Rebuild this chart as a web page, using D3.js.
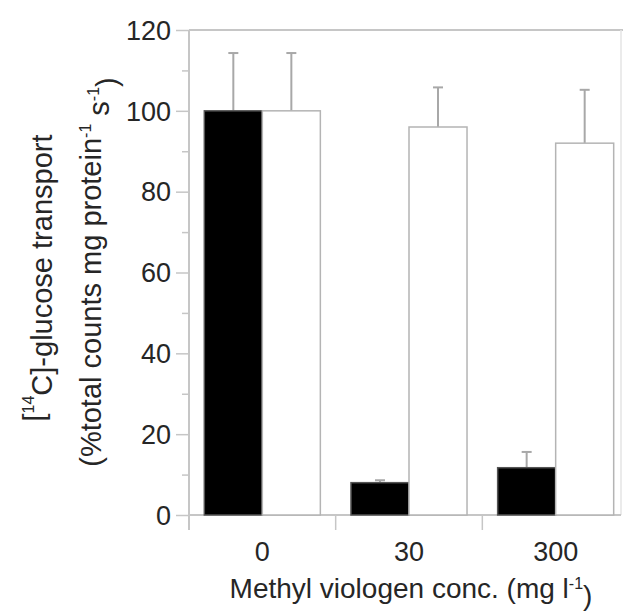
<!DOCTYPE html>
<html>
<head>
<meta charset="utf-8">
<script src="https://cdn.jsdelivr.net/npm/d3@7"></script>
<style>
  html, body { margin: 0; padding: 0; background: #fff; }
  svg { display: block; font-family: "Liberation Sans", Arial, Helvetica, sans-serif; }
</style>
</head>
<body>
<svg id="chart" width="623" height="613"></svg>
<script>
// Methyl viologen concentrations (x categories)
const categories = ["0", "30", "300"];
// Filled (black) series: means and SE
const blackValues = [100, 8, 11.7];
const blackErrors = [14.3, 0.6, 3.9];
// Open (white) series: means and SE
const whiteValues = [100, 96, 92];
const whiteErrors = [14.3, 9.8, 13.2];
// Y axis ticks
const yMajorTicks = [0, 20, 40, 60, 80, 100, 120];
const yMinorTicks = [10, 30, 50, 70, 90, 110];

const svg = d3.select("#chart");
const plotLeft = 189, plotTop = 30, plotBottom = 515, groupRight = 629, frameRight = 621;
const axisColor = "#c6c6c6";
const textColor = "#262626";

const y = d3.scaleLinear().domain([0, 120]).range([plotBottom, plotTop]);
const x = d3.scaleBand().domain(categories).range([plotLeft, groupRight]).paddingInner(0).paddingOuter(0);
const xs = d3.scaleBand().domain(["black", "white"]).range([0, x.bandwidth()]).paddingInner(0).paddingOuter(0.264);

// frame: top and right edges
svg.append("line").attr("x1", plotLeft).attr("x2", groupRight).attr("y1", plotTop).attr("y2", plotTop)
  .attr("stroke", axisColor).attr("stroke-width", 2);
svg.append("line").attr("x1", frameRight).attr("x2", frameRight).attr("y1", plotTop).attr("y2", plotBottom)
  .attr("stroke", "#e4e4e4").attr("stroke-width", 1.5);

// y axis with major and minor ticks
const yAxis = svg.append("g").attr("transform", `translate(${plotLeft},0)`)
  .call(d3.axisLeft(y).tickValues(yMajorTicks).tickSize(13).tickPadding(5).tickSizeOuter(0));
yAxis.select(".domain").remove();
yAxis.selectAll(".tick line").attr("stroke", axisColor).attr("stroke-width", 1.5);
yAxis.selectAll(".tick text").attr("fill", textColor).style("font-size", "27px")
  .style("font-family", "'Liberation Sans', Arial, sans-serif").attr("dy", "0.34em");
const yMinor = svg.append("g").attr("transform", `translate(${plotLeft},0)`)
  .call(d3.axisLeft(y).tickValues(yMinorTicks).tickSize(7).tickFormat(""));
yMinor.select(".domain").remove();
yMinor.selectAll(".tick line").attr("stroke", axisColor).attr("stroke-width", 1.5);

// y axis line extends a little below the baseline
svg.append("line").attr("x1", plotLeft).attr("x2", plotLeft).attr("y1", plotTop).attr("y2", plotBottom + 15)
  .attr("stroke", axisColor).attr("stroke-width", 2);

// x baseline and group separators
svg.append("line").attr("x1", plotLeft).attr("x2", frameRight).attr("y1", plotBottom).attr("y2", plotBottom)
  .attr("stroke", axisColor).attr("stroke-width", 2);
categories.slice(1).forEach(c => {
  svg.append("line").attr("x1", x(c)).attr("x2", x(c)).attr("y1", plotBottom).attr("y2", plotBottom + 15)
    .attr("stroke", axisColor).attr("stroke-width", 1.5);
});

// bars
const rows = categories.map((c, i) => [
  { cat: c, key: "black", v: blackValues[i], e: blackErrors[i] },
  { cat: c, key: "white", v: whiteValues[i], e: whiteErrors[i] }
]).flat();

const errColor = "#a8a8a8";
const g = svg.append("g");
// error bars (drawn first so the bar outline sits on top)
rows.forEach(d => {
  const cx = x(d.cat) + xs(d.key) + xs.bandwidth() / 2;
  g.append("line").attr("x1", cx).attr("x2", cx).attr("y1", y(d.v)).attr("y2", y(d.v + d.e))
    .attr("stroke", errColor).attr("stroke-width", 2);
  g.append("line").attr("x1", cx - 5).attr("x2", cx + 5).attr("y1", y(d.v + d.e)).attr("y2", y(d.v + d.e))
    .attr("stroke", errColor).attr("stroke-width", 2);
});
g.selectAll("rect.bar").data(rows).join("rect")
  .attr("class", "bar")
  .attr("x", d => x(d.cat) + xs(d.key))
  .attr("y", d => y(d.v))
  .attr("width", xs.bandwidth())
  .attr("height", d => y(0) - y(d.v))
  .attr("fill", d => d.key === "black" ? "#000" : "#fff")
  .attr("stroke", d => d.key === "black" ? "#555" : "#b4b4b4")
  .attr("stroke-width", 1.5);

// x tick labels
svg.append("g").selectAll("text").data(categories).join("text")
  .attr("x", d => x(d) + x.bandwidth() / 2)
  .attr("y", 561)
  .attr("text-anchor", "middle")
  .attr("fill", textColor)
  .style("font-size", "27px")
  .text(d => d);

// x axis title
const xt = svg.append("text").attr("x", 411).attr("y", 598).attr("text-anchor", "middle")
  .attr("fill", textColor).style("font-size", "28px");
xt.append("tspan").text("Methyl viologen conc. (mg l");
xt.append("tspan").attr("dy", "-0.55em").style("font-size", "16px").text("-1");
xt.append("tspan").attr("dy", "0.55em").text(")");

// y axis title, two lines
const yt1 = svg.append("text").attr("transform", "translate(44,278) rotate(-90)")
  .attr("text-anchor", "middle").attr("fill", textColor).style("font-size", "29px");
yt1.append("tspan").text("[");
yt1.append("tspan").attr("dy", "-0.6em").style("font-size", "16px").text("14");
yt1.append("tspan").attr("dy", "0.6em").text("C]-glucose transport");

const yt2 = svg.append("text").attr("transform", "translate(101,272) rotate(-90)")
  .attr("text-anchor", "middle").attr("fill", textColor).style("font-size", "29px");
yt2.append("tspan").text("(%total counts mg protein");
yt2.append("tspan").attr("dy", "-0.6em").style("font-size", "16px").text("-1");
yt2.append("tspan").attr("dy", "0.6em").text(" s");
yt2.append("tspan").attr("dy", "-0.6em").style("font-size", "16px").text("-1");
yt2.append("tspan").attr("dy", "0.6em").text(")");
</script>
</body>
</html>
